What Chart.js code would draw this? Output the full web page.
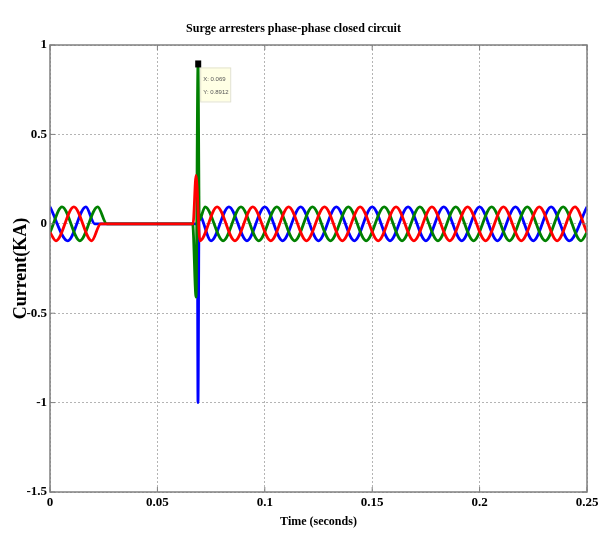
<!DOCTYPE html>
<html>
<head>
<meta charset="utf-8">
<title>Surge arresters phase-phase closed circuit</title>
<script src="https://cdn.jsdelivr.net/npm/chart.js@4/dist/chart.umd.min.js"></script>
<style>
  html,body{margin:0;padding:0;background:#fff;}
  #wrap{width:607px;height:540px;position:relative;}
</style>
</head>
<body>
<div id="wrap"><canvas id="chart" width="607" height="540"></canvas></div>
<script>
// [time (s), current (kA)]: extrema, breaker zeros and the surge
const bluePhase = [
  [0, 0.095], [0.0083, -0.095], [0.0167, 0.095], [0.0208, 0], [0.0686, 0],
  [0.0689, -1.0], [0.0694, 0.05], [0.0750, -0.095], [0.0833, 0.095], [0.0917, -0.095],
  [0.1000, 0.095], [0.1083, -0.095], [0.1167, 0.095], [0.1250, -0.095], [0.1333, 0.095],
  [0.1417, -0.095], [0.1500, 0.095], [0.1583, -0.095], [0.1667, 0.095], [0.1750, -0.095],
  [0.1833, 0.095], [0.1917, -0.095], [0.2000, 0.095], [0.2083, -0.095], [0.2167, 0.095],
  [0.2250, -0.095], [0.2333, 0.095], [0.2417, -0.095], [0.2500, 0.095]
];
const greenPhase = [
  [0, -0.048], [0.0056, 0.095], [0.0139, -0.095], [0.0222, 0.095], [0.0264, 0], [0.0664, 0],
  [0.0680, -0.41], [0.0689, 0.8912], [0.0695, 0.02], [0.0722, 0.095], [0.0806, -0.095],
  [0.0889, 0.095], [0.0972, -0.095], [0.1056, 0.095], [0.1139, -0.095], [0.1222, 0.095],
  [0.1306, -0.095], [0.1389, 0.095], [0.1472, -0.095], [0.1556, 0.095], [0.1639, -0.095],
  [0.1722, 0.095], [0.1806, -0.095], [0.1889, 0.095], [0.1972, -0.095], [0.2056, 0.095],
  [0.2139, -0.095], [0.2222, 0.095], [0.2306, -0.095], [0.2389, 0.095], [0.2472, -0.095],
  [0.2500, -0.048]
];
const redPhase = [
  [0, -0.048], [0.0028, -0.095], [0.0111, 0.095], [0.0194, -0.095], [0.0236, 0], [0.0666, 0],
  [0.0680, 0.27], [0.0698, -0.095], [0.0778, 0.095], [0.0861, -0.095], [0.0944, 0.095],
  [0.1028, -0.095], [0.1111, 0.095], [0.1194, -0.095], [0.1278, 0.095], [0.1361, -0.095],
  [0.1444, 0.095], [0.1528, -0.095], [0.1611, 0.095], [0.1694, -0.095], [0.1778, 0.095],
  [0.1861, -0.095], [0.1944, 0.095], [0.2028, -0.095], [0.2111, 0.095], [0.2194, -0.095],
  [0.2278, 0.095], [0.2361, -0.095], [0.2444, 0.095], [0.2500, -0.048]
];

const timeTicks = [0, 0.05, 0.1, 0.15, 0.2, 0.25];
const timeLabels = ["0", "0.05", "0.1", "0.15", "0.2", "0.25"];
const currentTicks = [-1.5, -1, -0.5, 0, 0.5, 1];
const currentLabels = ["-1.5", "-1", "-0.5", "0", "0.5", "1"];

// data cursor
const tipTime = 0.069;
const tipCurrent = 0.8912;

const SERIF = "'Liberation Serif', 'Times New Roman', serif";

function pts(arr){ return arr.map(p => ({x: p[0], y: p[1]})); }

function trace(data, color){
  return {
    data: pts(data),
    borderColor: color,
    borderWidth: 2.8,
    pointRadius: 0,
    fill: false,
    cubicInterpolationMode: "monotone"
  };
}

// box round the axes plus matlab-style inward tick marks
const framePlugin = {
  id: "frame",
  afterDatasetsDraw(chart){
    const {ctx, chartArea: a, scales} = chart;
    ctx.save();
    ctx.strokeStyle = "#808080";
    ctx.lineWidth = 1;
    for (const v of timeTicks){
      const x = scales.x.getPixelForValue(v);
      ctx.beginPath();
      ctx.moveTo(x, a.bottom); ctx.lineTo(x, a.bottom - 5);
      ctx.moveTo(x, a.top); ctx.lineTo(x, a.top + 5);
      ctx.stroke();
    }
    for (const v of currentTicks){
      const y = scales.y.getPixelForValue(v);
      ctx.beginPath();
      ctx.moveTo(a.left, y); ctx.lineTo(a.left + 5, y);
      ctx.moveTo(a.right, y); ctx.lineTo(a.right - 5, y);
      ctx.stroke();
    }
    ctx.lineWidth = 1.5;
    ctx.strokeRect(a.left, a.top, a.right - a.left, a.bottom - a.top);
    ctx.restore();
  }
};

const tipPlugin = {
  id: "datatip",
  afterDraw(chart){
    const {ctx} = chart;
    const px = chart.scales.x.getPixelForValue(tipTime);
    const py = chart.scales.y.getPixelForValue(tipCurrent);
    ctx.save();
    ctx.fillStyle = "#ffffe4";
    ctx.strokeStyle = "#e2e2d0";
    ctx.lineWidth = 1;
    ctx.fillRect(px + 2, py + 3, 30, 34);
    ctx.strokeRect(px + 2.5, py + 3.5, 30, 34);
    ctx.fillStyle = "#555";
    ctx.font = "6px 'Liberation Sans', Arial, sans-serif";
    ctx.textBaseline = "middle";
    ctx.fillText("X: " + tipTime, px + 5, py + 15);
    ctx.fillText("Y: " + tipCurrent, px + 5, py + 28);
    ctx.fillStyle = "#000";
    ctx.fillRect(px - 3, py - 4, 6, 7);
    ctx.restore();
  }
};

new Chart(document.getElementById("chart"), {
  type: "line",
  data: {
    datasets: [
      trace(redPhase, "#ff0000"),
      trace(greenPhase, "#008000"),
      trace(bluePhase, "#0000ff")
    ]
  },
  options: {
    responsive: false,
    animation: false,
    layout: { padding: { left: 0, right: 20, top: 0, bottom: 0 } },
    plugins: {
      legend: { display: false },
      tooltip: { enabled: false },
      title: {
        display: true,
        text: "Surge arresters phase-phase closed circuit",
        color: "#000",
        font: { family: SERIF, size: 12, weight: "bold", lineHeight: 1.2 },
        padding: { top: 22, bottom: 8.6 }
      }
    },
    scales: {
      x: {
        type: "linear",
        min: 0, max: 0.25,
        afterBuildTicks: s => { s.ticks = timeTicks.map(v => ({value: v})); },
        afterFit: s => { s.height = 48; },
        ticks: {
          color: "#000",
          padding: 3,
          maxRotation: 0,
          font: { family: SERIF, size: 13, weight: "bold" },
          callback: (v, i) => timeLabels[i]
        },
        grid: { color: "#b4b4b4", lineWidth: 1, drawTicks: false },
        border: { display: false, dash: [2, 2] },
        title: {
          display: true,
          text: "Time (seconds)",
          color: "#000",
          font: { family: SERIF, size: 12, weight: "bold", lineHeight: 1.2 },
          padding: { top: 0, bottom: 10.8 }
        }
      },
      y: {
        type: "linear",
        min: -1.5, max: 1,
        afterBuildTicks: s => { s.ticks = currentTicks.map(v => ({value: v})); },
        afterFit: s => { s.width = 50; },
        ticks: {
          color: "#000",
          padding: 3,
          font: { family: SERIF, size: 13, weight: "bold" },
          callback: (v, i) => currentLabels[i]
        },
        grid: { color: "#b4b4b4", lineWidth: 1, drawTicks: false },
        border: { display: false, dash: [2, 2] },
        title: {
          display: true,
          text: "Current(KA)",
          color: "#000",
          font: { family: SERIF, size: 18, weight: "bold", lineHeight: 1.2 },
          padding: { top: 11, bottom: 0 }
        }
      }
    }
  },
  plugins: [framePlugin, tipPlugin]
});
</script>
</body>
</html>
